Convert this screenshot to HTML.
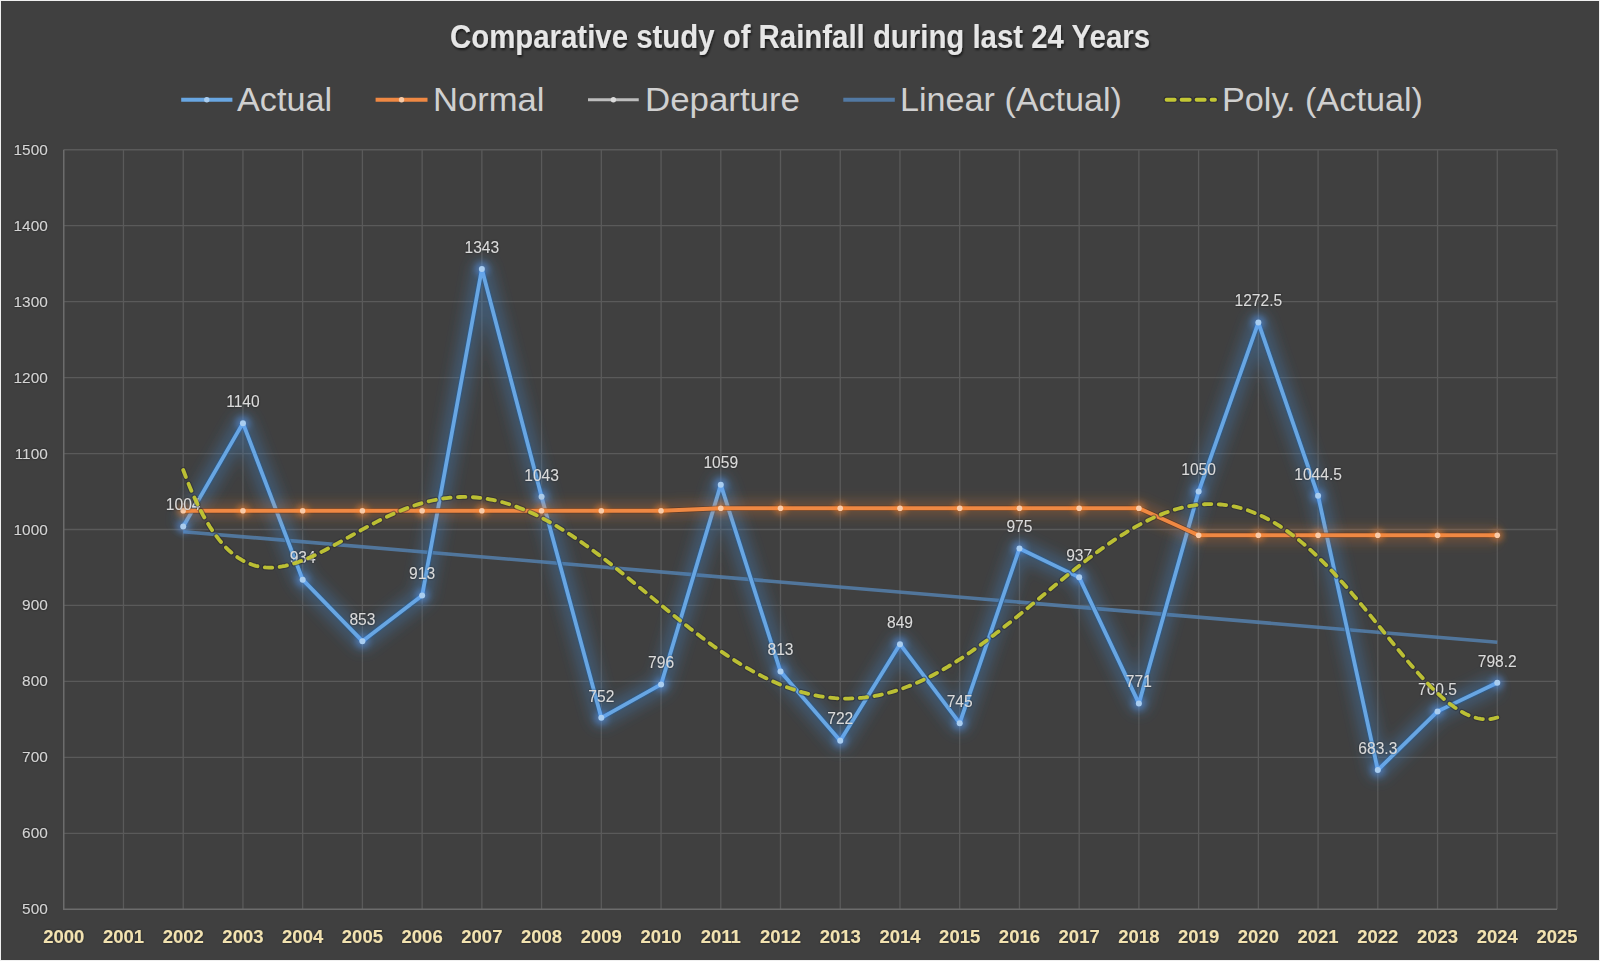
<!DOCTYPE html><html><head><meta charset="utf-8"><style>html,body{margin:0;padding:0;background:#404040;}svg{display:block}text{font-family:"Liberation Sans",sans-serif}</style></head><body>
<svg width="1600" height="961" viewBox="0 0 1600 961">
<defs>
<filter id="glowB" filterUnits="userSpaceOnUse" x="0" y="0" width="1600" height="961"><feGaussianBlur stdDeviation="6.5"/></filter>
<filter id="glowO" filterUnits="userSpaceOnUse" x="0" y="0" width="1600" height="961"><feGaussianBlur stdDeviation="6"/></filter>
<filter id="lblsh" x="-30%" y="-30%" width="160%" height="160%"><feGaussianBlur in="SourceAlpha" stdDeviation="1.2" result="b"/><feFlood flood-color="#000" flood-opacity="0.55"/><feComposite in2="b" operator="in" result="s"/><feMerge><feMergeNode in="s"/><feMergeNode in="SourceGraphic"/></feMerge></filter>
<filter id="titsh" x="-10%" y="-30%" width="120%" height="160%"><feGaussianBlur in="SourceAlpha" stdDeviation="1" result="b"/><feOffset dx="1.2" dy="1.5" result="ob"/><feFlood flood-color="#000" flood-opacity="0.6"/><feComposite in2="ob" operator="in" result="s"/><feMerge><feMergeNode in="s"/><feMergeNode in="SourceGraphic"/></feMerge></filter>
<filter id="mk" filterUnits="userSpaceOnUse" x="0" y="0" width="1600" height="961"><feGaussianBlur stdDeviation="3"/></filter>
</defs>
<rect x="0" y="0" width="1600" height="961" fill="#f0f0f0"/>
<rect x="1" y="1" width="1598" height="959" fill="#404040"/>
<path d="M63.75 833.30H1557.00 M63.75 757.35H1557.00 M63.75 681.40H1557.00 M63.75 605.45H1557.00 M63.75 529.50H1557.00 M63.75 453.55H1557.00 M63.75 377.60H1557.00 M63.75 301.65H1557.00 M63.75 225.70H1557.00 M63.75 149.75H1557.00 M123.48 149.75V909.25 M183.21 149.75V909.25 M242.94 149.75V909.25 M302.67 149.75V909.25 M362.40 149.75V909.25 M422.13 149.75V909.25 M481.86 149.75V909.25 M541.59 149.75V909.25 M601.32 149.75V909.25 M661.05 149.75V909.25 M720.78 149.75V909.25 M780.51 149.75V909.25 M840.24 149.75V909.25 M899.97 149.75V909.25 M959.70 149.75V909.25 M1019.43 149.75V909.25 M1079.16 149.75V909.25 M1138.89 149.75V909.25 M1198.62 149.75V909.25 M1258.35 149.75V909.25 M1318.08 149.75V909.25 M1377.81 149.75V909.25 M1437.54 149.75V909.25 M1497.27 149.75V909.25 M1557.00 149.75V909.25" stroke="#5a5a5a" stroke-width="1.3" fill="none"/>
<path d="M63.75 149.75V909.25H1557.00" stroke="#6c6c6c" stroke-width="1.5" fill="none"/>
<text x="47.8" y="914.25" text-anchor="end" font-size="15.4" fill="#d4d4d4" filter="url(#lblsh)">500</text>
<text x="47.8" y="838.30" text-anchor="end" font-size="15.4" fill="#d4d4d4" filter="url(#lblsh)">600</text>
<text x="47.8" y="762.35" text-anchor="end" font-size="15.4" fill="#d4d4d4" filter="url(#lblsh)">700</text>
<text x="47.8" y="686.40" text-anchor="end" font-size="15.4" fill="#d4d4d4" filter="url(#lblsh)">800</text>
<text x="47.8" y="610.45" text-anchor="end" font-size="15.4" fill="#d4d4d4" filter="url(#lblsh)">900</text>
<text x="47.8" y="534.50" text-anchor="end" font-size="15.4" fill="#d4d4d4" filter="url(#lblsh)">1000</text>
<text x="47.8" y="458.55" text-anchor="end" font-size="15.4" fill="#d4d4d4" filter="url(#lblsh)">1100</text>
<text x="47.8" y="382.60" text-anchor="end" font-size="15.4" fill="#d4d4d4" filter="url(#lblsh)">1200</text>
<text x="47.8" y="306.65" text-anchor="end" font-size="15.4" fill="#d4d4d4" filter="url(#lblsh)">1300</text>
<text x="47.8" y="230.70" text-anchor="end" font-size="15.4" fill="#d4d4d4" filter="url(#lblsh)">1400</text>
<text x="47.8" y="154.75" text-anchor="end" font-size="15.4" fill="#d4d4d4" filter="url(#lblsh)">1500</text>
<text x="63.75" y="943" text-anchor="middle" font-size="18.5" font-weight="bold" fill="#f2e2b0" filter="url(#lblsh)">2000</text>
<text x="123.48" y="943" text-anchor="middle" font-size="18.5" font-weight="bold" fill="#f2e2b0" filter="url(#lblsh)">2001</text>
<text x="183.21" y="943" text-anchor="middle" font-size="18.5" font-weight="bold" fill="#f2e2b0" filter="url(#lblsh)">2002</text>
<text x="242.94" y="943" text-anchor="middle" font-size="18.5" font-weight="bold" fill="#f2e2b0" filter="url(#lblsh)">2003</text>
<text x="302.67" y="943" text-anchor="middle" font-size="18.5" font-weight="bold" fill="#f2e2b0" filter="url(#lblsh)">2004</text>
<text x="362.40" y="943" text-anchor="middle" font-size="18.5" font-weight="bold" fill="#f2e2b0" filter="url(#lblsh)">2005</text>
<text x="422.13" y="943" text-anchor="middle" font-size="18.5" font-weight="bold" fill="#f2e2b0" filter="url(#lblsh)">2006</text>
<text x="481.86" y="943" text-anchor="middle" font-size="18.5" font-weight="bold" fill="#f2e2b0" filter="url(#lblsh)">2007</text>
<text x="541.59" y="943" text-anchor="middle" font-size="18.5" font-weight="bold" fill="#f2e2b0" filter="url(#lblsh)">2008</text>
<text x="601.32" y="943" text-anchor="middle" font-size="18.5" font-weight="bold" fill="#f2e2b0" filter="url(#lblsh)">2009</text>
<text x="661.05" y="943" text-anchor="middle" font-size="18.5" font-weight="bold" fill="#f2e2b0" filter="url(#lblsh)">2010</text>
<text x="720.78" y="943" text-anchor="middle" font-size="18.5" font-weight="bold" fill="#f2e2b0" filter="url(#lblsh)">2011</text>
<text x="780.51" y="943" text-anchor="middle" font-size="18.5" font-weight="bold" fill="#f2e2b0" filter="url(#lblsh)">2012</text>
<text x="840.24" y="943" text-anchor="middle" font-size="18.5" font-weight="bold" fill="#f2e2b0" filter="url(#lblsh)">2013</text>
<text x="899.97" y="943" text-anchor="middle" font-size="18.5" font-weight="bold" fill="#f2e2b0" filter="url(#lblsh)">2014</text>
<text x="959.70" y="943" text-anchor="middle" font-size="18.5" font-weight="bold" fill="#f2e2b0" filter="url(#lblsh)">2015</text>
<text x="1019.43" y="943" text-anchor="middle" font-size="18.5" font-weight="bold" fill="#f2e2b0" filter="url(#lblsh)">2016</text>
<text x="1079.16" y="943" text-anchor="middle" font-size="18.5" font-weight="bold" fill="#f2e2b0" filter="url(#lblsh)">2017</text>
<text x="1138.89" y="943" text-anchor="middle" font-size="18.5" font-weight="bold" fill="#f2e2b0" filter="url(#lblsh)">2018</text>
<text x="1198.62" y="943" text-anchor="middle" font-size="18.5" font-weight="bold" fill="#f2e2b0" filter="url(#lblsh)">2019</text>
<text x="1258.35" y="943" text-anchor="middle" font-size="18.5" font-weight="bold" fill="#f2e2b0" filter="url(#lblsh)">2020</text>
<text x="1318.08" y="943" text-anchor="middle" font-size="18.5" font-weight="bold" fill="#f2e2b0" filter="url(#lblsh)">2021</text>
<text x="1377.81" y="943" text-anchor="middle" font-size="18.5" font-weight="bold" fill="#f2e2b0" filter="url(#lblsh)">2022</text>
<text x="1437.54" y="943" text-anchor="middle" font-size="18.5" font-weight="bold" fill="#f2e2b0" filter="url(#lblsh)">2023</text>
<text x="1497.27" y="943" text-anchor="middle" font-size="18.5" font-weight="bold" fill="#f2e2b0" filter="url(#lblsh)">2024</text>
<text x="1557.00" y="943" text-anchor="middle" font-size="18.5" font-weight="bold" fill="#f2e2b0" filter="url(#lblsh)">2025</text>
<path d="M183.21 531.72L1497.27 642.33" stroke="#5580ad" stroke-width="3.6" stroke-opacity="0.85" fill="none"/>
<path d="M183.21 526.46 L242.94 423.17 L302.67 579.63 L362.40 641.15 L422.13 595.58 L481.86 268.99 L541.59 496.84 L601.32 717.86 L661.05 684.44 L720.78 484.69 L780.51 671.53 L840.24 740.64 L899.97 644.18 L959.70 723.17 L1019.43 548.49 L1079.16 577.35 L1138.89 703.43 L1198.62 491.53 L1258.35 322.54 L1318.08 495.70 L1377.81 770.03 L1437.54 711.40 L1497.27 682.77" stroke="#3f7fc0" stroke-width="20" stroke-opacity="0.36" fill="none" filter="url(#glowB)" stroke-linejoin="round"/>
<path d="M183.21 526.46 L242.94 423.17 L302.67 579.63 L362.40 641.15 L422.13 595.58 L481.86 268.99 L541.59 496.84 L601.32 717.86 L661.05 684.44 L720.78 484.69 L780.51 671.53 L840.24 740.64 L899.97 644.18 L959.70 723.17 L1019.43 548.49 L1079.16 577.35 L1138.89 703.43 L1198.62 491.53 L1258.35 322.54 L1318.08 495.70 L1377.81 770.03 L1437.54 711.40 L1497.27 682.77" stroke="#2c5a8c" stroke-width="5.6" stroke-opacity="0.8" fill="none" stroke-linejoin="round"/>
<path d="M183.21 526.46 L242.94 423.17 L302.67 579.63 L362.40 641.15 L422.13 595.58 L481.86 268.99 L541.59 496.84 L601.32 717.86 L661.05 684.44 L720.78 484.69 L780.51 671.53 L840.24 740.64 L899.97 644.18 L959.70 723.17 L1019.43 548.49 L1079.16 577.35 L1138.89 703.43 L1198.62 491.53 L1258.35 322.54 L1318.08 495.70 L1377.81 770.03 L1437.54 711.40 L1497.27 682.77" stroke="#68a6e2" stroke-width="3.8" fill="none" stroke-linejoin="round"/>
<circle cx="183.21" cy="526.46" r="7" fill="#5aa0ff" fill-opacity="0.45" filter="url(#mk)"/>
<circle cx="242.94" cy="423.17" r="7" fill="#5aa0ff" fill-opacity="0.45" filter="url(#mk)"/>
<circle cx="302.67" cy="579.63" r="7" fill="#5aa0ff" fill-opacity="0.45" filter="url(#mk)"/>
<circle cx="362.40" cy="641.15" r="7" fill="#5aa0ff" fill-opacity="0.45" filter="url(#mk)"/>
<circle cx="422.13" cy="595.58" r="7" fill="#5aa0ff" fill-opacity="0.45" filter="url(#mk)"/>
<circle cx="481.86" cy="268.99" r="7" fill="#5aa0ff" fill-opacity="0.45" filter="url(#mk)"/>
<circle cx="541.59" cy="496.84" r="7" fill="#5aa0ff" fill-opacity="0.45" filter="url(#mk)"/>
<circle cx="601.32" cy="717.86" r="7" fill="#5aa0ff" fill-opacity="0.45" filter="url(#mk)"/>
<circle cx="661.05" cy="684.44" r="7" fill="#5aa0ff" fill-opacity="0.45" filter="url(#mk)"/>
<circle cx="720.78" cy="484.69" r="7" fill="#5aa0ff" fill-opacity="0.45" filter="url(#mk)"/>
<circle cx="780.51" cy="671.53" r="7" fill="#5aa0ff" fill-opacity="0.45" filter="url(#mk)"/>
<circle cx="840.24" cy="740.64" r="7" fill="#5aa0ff" fill-opacity="0.45" filter="url(#mk)"/>
<circle cx="899.97" cy="644.18" r="7" fill="#5aa0ff" fill-opacity="0.45" filter="url(#mk)"/>
<circle cx="959.70" cy="723.17" r="7" fill="#5aa0ff" fill-opacity="0.45" filter="url(#mk)"/>
<circle cx="1019.43" cy="548.49" r="7" fill="#5aa0ff" fill-opacity="0.45" filter="url(#mk)"/>
<circle cx="1079.16" cy="577.35" r="7" fill="#5aa0ff" fill-opacity="0.45" filter="url(#mk)"/>
<circle cx="1138.89" cy="703.43" r="7" fill="#5aa0ff" fill-opacity="0.45" filter="url(#mk)"/>
<circle cx="1198.62" cy="491.53" r="7" fill="#5aa0ff" fill-opacity="0.45" filter="url(#mk)"/>
<circle cx="1258.35" cy="322.54" r="7" fill="#5aa0ff" fill-opacity="0.45" filter="url(#mk)"/>
<circle cx="1318.08" cy="495.70" r="7" fill="#5aa0ff" fill-opacity="0.45" filter="url(#mk)"/>
<circle cx="1377.81" cy="770.03" r="7" fill="#5aa0ff" fill-opacity="0.45" filter="url(#mk)"/>
<circle cx="1437.54" cy="711.40" r="7" fill="#5aa0ff" fill-opacity="0.45" filter="url(#mk)"/>
<circle cx="1497.27" cy="682.77" r="7" fill="#5aa0ff" fill-opacity="0.45" filter="url(#mk)"/>
<circle cx="183.21" cy="526.46" r="3" fill="#a9cdf0"/>
<circle cx="242.94" cy="423.17" r="3" fill="#a9cdf0"/>
<circle cx="302.67" cy="579.63" r="3" fill="#a9cdf0"/>
<circle cx="362.40" cy="641.15" r="3" fill="#a9cdf0"/>
<circle cx="422.13" cy="595.58" r="3" fill="#a9cdf0"/>
<circle cx="481.86" cy="268.99" r="3" fill="#a9cdf0"/>
<circle cx="541.59" cy="496.84" r="3" fill="#a9cdf0"/>
<circle cx="601.32" cy="717.86" r="3" fill="#a9cdf0"/>
<circle cx="661.05" cy="684.44" r="3" fill="#a9cdf0"/>
<circle cx="720.78" cy="484.69" r="3" fill="#a9cdf0"/>
<circle cx="780.51" cy="671.53" r="3" fill="#a9cdf0"/>
<circle cx="840.24" cy="740.64" r="3" fill="#a9cdf0"/>
<circle cx="899.97" cy="644.18" r="3" fill="#a9cdf0"/>
<circle cx="959.70" cy="723.17" r="3" fill="#a9cdf0"/>
<circle cx="1019.43" cy="548.49" r="3" fill="#a9cdf0"/>
<circle cx="1079.16" cy="577.35" r="3" fill="#a9cdf0"/>
<circle cx="1138.89" cy="703.43" r="3" fill="#a9cdf0"/>
<circle cx="1198.62" cy="491.53" r="3" fill="#a9cdf0"/>
<circle cx="1258.35" cy="322.54" r="3" fill="#a9cdf0"/>
<circle cx="1318.08" cy="495.70" r="3" fill="#a9cdf0"/>
<circle cx="1377.81" cy="770.03" r="3" fill="#a9cdf0"/>
<circle cx="1437.54" cy="711.40" r="3" fill="#a9cdf0"/>
<circle cx="1497.27" cy="682.77" r="3" fill="#a9cdf0"/>
<path d="M183.21 510.74 L242.94 510.74 L302.67 510.74 L362.40 510.74 L422.13 510.74 L481.86 510.74 L541.59 510.74 L601.32 510.74 L661.05 510.74 L720.78 508.23 L780.51 508.23 L840.24 508.23 L899.97 508.23 L959.70 508.23 L1019.43 508.23 L1079.16 508.23 L1138.89 508.23 L1198.62 535.20 L1258.35 535.20 L1318.08 535.20 L1377.81 535.20 L1437.54 535.20 L1497.27 535.20" stroke="#ed7d31" stroke-width="16" stroke-opacity="0.24" fill="none" filter="url(#glowO)" stroke-linejoin="round"/>
<path d="M183.21 510.74 L242.94 510.74 L302.67 510.74 L362.40 510.74 L422.13 510.74 L481.86 510.74 L541.59 510.74 L601.32 510.74 L661.05 510.74 L720.78 508.23 L780.51 508.23 L840.24 508.23 L899.97 508.23 L959.70 508.23 L1019.43 508.23 L1079.16 508.23 L1138.89 508.23 L1198.62 535.20 L1258.35 535.20 L1318.08 535.20 L1377.81 535.20 L1437.54 535.20 L1497.27 535.20" stroke="#5a3015" stroke-opacity="0.6" stroke-width="5.6" fill="none" stroke-linejoin="round"/>
<path d="M183.21 510.74 L242.94 510.74 L302.67 510.74 L362.40 510.74 L422.13 510.74 L481.86 510.74 L541.59 510.74 L601.32 510.74 L661.05 510.74 L720.78 508.23 L780.51 508.23 L840.24 508.23 L899.97 508.23 L959.70 508.23 L1019.43 508.23 L1079.16 508.23 L1138.89 508.23 L1198.62 535.20 L1258.35 535.20 L1318.08 535.20 L1377.81 535.20 L1437.54 535.20 L1497.27 535.20" stroke="#ef8843" stroke-width="3.9" fill="none" stroke-linejoin="round"/>
<circle cx="183.21" cy="510.74" r="6" fill="#ff8a30" fill-opacity="0.5" filter="url(#mk)"/>
<circle cx="242.94" cy="510.74" r="6" fill="#ff8a30" fill-opacity="0.5" filter="url(#mk)"/>
<circle cx="302.67" cy="510.74" r="6" fill="#ff8a30" fill-opacity="0.5" filter="url(#mk)"/>
<circle cx="362.40" cy="510.74" r="6" fill="#ff8a30" fill-opacity="0.5" filter="url(#mk)"/>
<circle cx="422.13" cy="510.74" r="6" fill="#ff8a30" fill-opacity="0.5" filter="url(#mk)"/>
<circle cx="481.86" cy="510.74" r="6" fill="#ff8a30" fill-opacity="0.5" filter="url(#mk)"/>
<circle cx="541.59" cy="510.74" r="6" fill="#ff8a30" fill-opacity="0.5" filter="url(#mk)"/>
<circle cx="601.32" cy="510.74" r="6" fill="#ff8a30" fill-opacity="0.5" filter="url(#mk)"/>
<circle cx="661.05" cy="510.74" r="6" fill="#ff8a30" fill-opacity="0.5" filter="url(#mk)"/>
<circle cx="720.78" cy="508.23" r="6" fill="#ff8a30" fill-opacity="0.5" filter="url(#mk)"/>
<circle cx="780.51" cy="508.23" r="6" fill="#ff8a30" fill-opacity="0.5" filter="url(#mk)"/>
<circle cx="840.24" cy="508.23" r="6" fill="#ff8a30" fill-opacity="0.5" filter="url(#mk)"/>
<circle cx="899.97" cy="508.23" r="6" fill="#ff8a30" fill-opacity="0.5" filter="url(#mk)"/>
<circle cx="959.70" cy="508.23" r="6" fill="#ff8a30" fill-opacity="0.5" filter="url(#mk)"/>
<circle cx="1019.43" cy="508.23" r="6" fill="#ff8a30" fill-opacity="0.5" filter="url(#mk)"/>
<circle cx="1079.16" cy="508.23" r="6" fill="#ff8a30" fill-opacity="0.5" filter="url(#mk)"/>
<circle cx="1138.89" cy="508.23" r="6" fill="#ff8a30" fill-opacity="0.5" filter="url(#mk)"/>
<circle cx="1198.62" cy="535.20" r="6" fill="#ff8a30" fill-opacity="0.5" filter="url(#mk)"/>
<circle cx="1258.35" cy="535.20" r="6" fill="#ff8a30" fill-opacity="0.5" filter="url(#mk)"/>
<circle cx="1318.08" cy="535.20" r="6" fill="#ff8a30" fill-opacity="0.5" filter="url(#mk)"/>
<circle cx="1377.81" cy="535.20" r="6" fill="#ff8a30" fill-opacity="0.5" filter="url(#mk)"/>
<circle cx="1437.54" cy="535.20" r="6" fill="#ff8a30" fill-opacity="0.5" filter="url(#mk)"/>
<circle cx="1497.27" cy="535.20" r="6" fill="#ff8a30" fill-opacity="0.5" filter="url(#mk)"/>
<circle cx="183.21" cy="510.74" r="2.8" fill="#f9cba8"/>
<circle cx="242.94" cy="510.74" r="2.8" fill="#f9cba8"/>
<circle cx="302.67" cy="510.74" r="2.8" fill="#f9cba8"/>
<circle cx="362.40" cy="510.74" r="2.8" fill="#f9cba8"/>
<circle cx="422.13" cy="510.74" r="2.8" fill="#f9cba8"/>
<circle cx="481.86" cy="510.74" r="2.8" fill="#f9cba8"/>
<circle cx="541.59" cy="510.74" r="2.8" fill="#f9cba8"/>
<circle cx="601.32" cy="510.74" r="2.8" fill="#f9cba8"/>
<circle cx="661.05" cy="510.74" r="2.8" fill="#f9cba8"/>
<circle cx="720.78" cy="508.23" r="2.8" fill="#f9cba8"/>
<circle cx="780.51" cy="508.23" r="2.8" fill="#f9cba8"/>
<circle cx="840.24" cy="508.23" r="2.8" fill="#f9cba8"/>
<circle cx="899.97" cy="508.23" r="2.8" fill="#f9cba8"/>
<circle cx="959.70" cy="508.23" r="2.8" fill="#f9cba8"/>
<circle cx="1019.43" cy="508.23" r="2.8" fill="#f9cba8"/>
<circle cx="1079.16" cy="508.23" r="2.8" fill="#f9cba8"/>
<circle cx="1138.89" cy="508.23" r="2.8" fill="#f9cba8"/>
<circle cx="1198.62" cy="535.20" r="2.8" fill="#f9cba8"/>
<circle cx="1258.35" cy="535.20" r="2.8" fill="#f9cba8"/>
<circle cx="1318.08" cy="535.20" r="2.8" fill="#f9cba8"/>
<circle cx="1377.81" cy="535.20" r="2.8" fill="#f9cba8"/>
<circle cx="1437.54" cy="535.20" r="2.8" fill="#f9cba8"/>
<circle cx="1497.27" cy="535.20" r="2.8" fill="#f9cba8"/>
<text x="183.21" y="510.26" text-anchor="middle" font-size="15.6" fill="#dadada" filter="url(#lblsh)">1004</text>
<text x="242.94" y="406.97" text-anchor="middle" font-size="15.6" fill="#dadada" filter="url(#lblsh)">1140</text>
<text x="302.67" y="563.43" text-anchor="middle" font-size="15.6" fill="#dadada" filter="url(#lblsh)">934</text>
<text x="362.40" y="624.95" text-anchor="middle" font-size="15.6" fill="#dadada" filter="url(#lblsh)">853</text>
<text x="422.13" y="579.38" text-anchor="middle" font-size="15.6" fill="#dadada" filter="url(#lblsh)">913</text>
<text x="481.86" y="252.79" text-anchor="middle" font-size="15.6" fill="#dadada" filter="url(#lblsh)">1343</text>
<text x="541.59" y="480.64" text-anchor="middle" font-size="15.6" fill="#dadada" filter="url(#lblsh)">1043</text>
<text x="601.32" y="701.66" text-anchor="middle" font-size="15.6" fill="#dadada" filter="url(#lblsh)">752</text>
<text x="661.05" y="668.24" text-anchor="middle" font-size="15.6" fill="#dadada" filter="url(#lblsh)">796</text>
<text x="720.78" y="468.49" text-anchor="middle" font-size="15.6" fill="#dadada" filter="url(#lblsh)">1059</text>
<text x="780.51" y="655.33" text-anchor="middle" font-size="15.6" fill="#dadada" filter="url(#lblsh)">813</text>
<text x="840.24" y="724.44" text-anchor="middle" font-size="15.6" fill="#dadada" filter="url(#lblsh)">722</text>
<text x="899.97" y="627.98" text-anchor="middle" font-size="15.6" fill="#dadada" filter="url(#lblsh)">849</text>
<text x="959.70" y="706.97" text-anchor="middle" font-size="15.6" fill="#dadada" filter="url(#lblsh)">745</text>
<text x="1019.43" y="532.29" text-anchor="middle" font-size="15.6" fill="#dadada" filter="url(#lblsh)">975</text>
<text x="1079.16" y="561.15" text-anchor="middle" font-size="15.6" fill="#dadada" filter="url(#lblsh)">937</text>
<text x="1138.89" y="687.23" text-anchor="middle" font-size="15.6" fill="#dadada" filter="url(#lblsh)">771</text>
<text x="1198.62" y="475.33" text-anchor="middle" font-size="15.6" fill="#dadada" filter="url(#lblsh)">1050</text>
<text x="1258.35" y="306.34" text-anchor="middle" font-size="15.6" fill="#dadada" filter="url(#lblsh)">1272.5</text>
<text x="1318.08" y="479.50" text-anchor="middle" font-size="15.6" fill="#dadada" filter="url(#lblsh)">1044.5</text>
<text x="1377.81" y="753.83" text-anchor="middle" font-size="15.6" fill="#dadada" filter="url(#lblsh)">683.3</text>
<text x="1437.54" y="695.20" text-anchor="middle" font-size="15.6" fill="#dadada" filter="url(#lblsh)">760.5</text>
<text x="1497.27" y="666.57" text-anchor="middle" font-size="15.6" fill="#dadada" filter="url(#lblsh)">798.2</text>
<path d="M183.21 469.97 L186.50 478.73 L189.80 486.96 L193.09 494.68 L196.38 501.91 L199.68 508.67 L202.97 514.97 L206.26 520.82 L209.56 526.25 L212.85 531.27 L216.14 535.90 L219.44 540.15 L222.73 544.03 L226.02 547.56 L229.32 550.75 L232.61 553.62 L235.90 556.19 L239.20 558.45 L242.49 560.44 L245.78 562.15 L249.08 563.61 L252.37 564.82 L255.66 565.80 L258.96 566.55 L262.25 567.09 L265.54 567.43 L268.84 567.58 L272.13 567.56 L275.42 567.36 L278.72 567.00 L282.01 566.49 L285.30 565.85 L288.60 565.07 L291.89 564.17 L295.19 563.15 L298.48 562.03 L301.77 560.81 L305.07 559.51 L308.36 558.12 L311.65 556.65 L314.95 555.12 L318.24 553.53 L321.53 551.89 L324.83 550.20 L328.12 548.47 L331.41 546.70 L334.71 544.91 L338.00 543.10 L341.29 541.26 L344.59 539.42 L347.88 537.57 L351.17 535.72 L354.47 533.87 L357.76 532.04 L361.05 530.21 L364.35 528.40 L367.64 526.62 L370.93 524.85 L374.23 523.12 L377.52 521.42 L380.81 519.76 L384.11 518.13 L387.40 516.55 L390.69 515.01 L393.99 513.52 L397.28 512.08 L400.57 510.70 L403.87 509.37 L407.16 508.10 L410.45 506.89 L413.75 505.74 L417.04 504.66 L420.33 503.64 L423.63 502.69 L426.92 501.80 L430.21 500.99 L433.51 500.25 L436.80 499.58 L440.09 498.99 L443.39 498.47 L446.68 498.03 L449.97 497.66 L453.27 497.37 L456.56 497.15 L459.85 497.01 L463.15 496.95 L466.44 496.97 L469.73 497.07 L473.03 497.24 L476.32 497.49 L479.61 497.82 L482.91 498.23 L486.20 498.71 L489.49 499.27 L492.79 499.91 L496.08 500.62 L499.37 501.41 L502.67 502.27 L505.96 503.21 L509.25 504.22 L512.55 505.30 L515.84 506.45 L519.14 507.67 L522.43 508.96 L525.72 510.31 L529.02 511.74 L532.31 513.23 L535.60 514.78 L538.90 516.39 L542.19 518.07 L545.48 519.81 L548.78 521.60 L552.07 523.45 L555.36 525.36 L558.66 527.32 L561.95 529.33 L565.24 531.39 L568.54 533.50 L571.83 535.66 L575.12 537.86 L578.42 540.10 L581.71 542.39 L585.00 544.72 L588.30 547.08 L591.59 549.48 L594.88 551.92 L598.18 554.39 L601.47 556.89 L604.76 559.41 L608.06 561.97 L611.35 564.54 L614.64 567.14 L617.94 569.76 L621.23 572.40 L624.52 575.06 L627.82 577.73 L631.11 580.42 L634.40 583.11 L637.70 585.81 L640.99 588.52 L644.28 591.24 L647.58 593.96 L650.87 596.68 L654.16 599.39 L657.46 602.11 L660.75 604.82 L664.04 607.52 L667.34 610.22 L670.63 612.90 L673.92 615.57 L677.22 618.23 L680.51 620.87 L683.80 623.49 L687.10 626.09 L690.39 628.67 L693.68 631.23 L696.98 633.76 L700.27 636.27 L703.56 638.74 L706.86 641.19 L710.15 643.60 L713.44 645.98 L716.74 648.32 L720.03 650.63 L723.32 652.90 L726.62 655.13 L729.91 657.31 L733.21 659.46 L736.50 661.56 L739.79 663.61 L743.09 665.61 L746.38 667.57 L749.67 669.48 L752.97 671.33 L756.26 673.14 L759.55 674.89 L762.85 676.58 L766.14 678.22 L769.43 679.80 L772.73 681.33 L776.02 682.79 L779.31 684.20 L782.61 685.54 L785.90 686.82 L789.19 688.04 L792.49 689.20 L795.78 690.29 L799.07 691.32 L802.37 692.28 L805.66 693.17 L808.95 694.00 L812.25 694.76 L815.54 695.45 L818.83 696.07 L822.13 696.63 L825.42 697.11 L828.71 697.53 L832.01 697.87 L835.30 698.15 L838.59 698.35 L841.89 698.49 L845.18 698.55 L848.47 698.55 L851.77 698.47 L855.06 698.32 L858.35 698.10 L861.65 697.81 L864.94 697.46 L868.23 697.03 L871.53 696.53 L874.82 695.96 L878.11 695.32 L881.41 694.61 L884.70 693.84 L887.99 693.00 L891.29 692.09 L894.58 691.11 L897.87 690.07 L901.17 688.96 L904.46 687.79 L907.75 686.55 L911.05 685.25 L914.34 683.89 L917.63 682.47 L920.93 680.98 L924.22 679.44 L927.51 677.84 L930.81 676.18 L934.10 674.46 L937.39 672.69 L940.69 670.86 L943.98 668.98 L947.27 667.05 L950.57 665.07 L953.86 663.04 L957.16 660.97 L960.45 658.84 L963.74 656.67 L967.04 654.46 L970.33 652.21 L973.62 649.91 L976.92 647.58 L980.21 645.21 L983.50 642.80 L986.80 640.36 L990.09 637.89 L993.38 635.39 L996.68 632.86 L999.97 630.30 L1003.26 627.72 L1006.56 625.11 L1009.85 622.49 L1013.14 619.84 L1016.44 617.18 L1019.73 614.50 L1023.02 611.80 L1026.32 609.10 L1029.61 606.39 L1032.90 603.66 L1036.20 600.94 L1039.49 598.21 L1042.78 595.47 L1046.08 592.74 L1049.37 590.01 L1052.66 587.29 L1055.96 584.57 L1059.25 581.87 L1062.54 579.17 L1065.84 576.49 L1069.13 573.82 L1072.42 571.18 L1075.72 568.55 L1079.01 565.94 L1082.30 563.36 L1085.60 560.81 L1088.89 558.28 L1092.18 555.79 L1095.48 553.33 L1098.77 550.90 L1102.06 548.51 L1105.36 546.16 L1108.65 543.86 L1111.94 541.60 L1115.24 539.38 L1118.53 537.21 L1121.82 535.10 L1125.12 533.03 L1128.41 531.02 L1131.70 529.07 L1135.00 527.17 L1138.29 525.34 L1141.58 523.57 L1144.88 521.86 L1148.17 520.23 L1151.46 518.65 L1154.76 517.15 L1158.05 515.73 L1161.34 514.37 L1164.64 513.09 L1167.93 511.89 L1171.23 510.77 L1174.52 509.73 L1177.81 508.78 L1181.11 507.90 L1184.40 507.11 L1187.69 506.41 L1190.99 505.80 L1194.28 505.28 L1197.57 504.85 L1200.87 504.51 L1204.16 504.27 L1207.45 504.12 L1210.75 504.06 L1214.04 504.10 L1217.33 504.24 L1220.63 504.48 L1223.92 504.82 L1227.21 505.26 L1230.51 505.80 L1233.80 506.44 L1237.09 507.18 L1240.39 508.03 L1243.68 508.98 L1246.97 510.03 L1250.27 511.18 L1253.56 512.44 L1256.85 513.79 L1260.15 515.26 L1263.44 516.82 L1266.73 518.49 L1270.03 520.26 L1273.32 522.13 L1276.61 524.10 L1279.91 526.17 L1283.20 528.34 L1286.49 530.61 L1289.79 532.97 L1293.08 535.43 L1296.37 537.99 L1299.67 540.63 L1302.96 543.37 L1306.25 546.20 L1309.55 549.12 L1312.84 552.12 L1316.13 555.20 L1319.43 558.37 L1322.72 561.62 L1326.01 564.94 L1329.31 568.33 L1332.60 571.80 L1335.89 575.33 L1339.19 578.93 L1342.48 582.59 L1345.77 586.30 L1349.07 590.07 L1352.36 593.89 L1355.65 597.76 L1358.95 601.66 L1362.24 605.61 L1365.53 609.58 L1368.83 613.59 L1372.12 617.62 L1375.41 621.66 L1378.71 625.72 L1382.00 629.79 L1385.29 633.86 L1388.59 637.92 L1391.88 641.97 L1395.18 646.01 L1398.47 650.02 L1401.76 654.00 L1405.06 657.95 L1408.35 661.85 L1411.64 665.70 L1414.94 669.49 L1418.23 673.21 L1421.52 676.86 L1424.82 680.42 L1428.11 683.89 L1431.40 687.26 L1434.70 690.52 L1437.99 693.66 L1441.28 696.67 L1444.58 699.54 L1447.87 702.27 L1451.16 704.83 L1454.46 707.22 L1457.75 709.43 L1461.04 711.45 L1464.34 713.27 L1467.63 714.87 L1470.92 716.25 L1474.22 717.38 L1477.51 718.26 L1480.80 718.88 L1484.10 719.22 L1487.39 719.26 L1490.68 719.00 L1493.98 718.42 L1497.27 717.51" stroke="#25252c" stroke-opacity="0.45" stroke-width="6.0" stroke-dasharray="7.45 7.41" stroke-linecap="round" fill="none"/>
<path d="M183.21 469.97 L186.50 478.73 L189.80 486.96 L193.09 494.68 L196.38 501.91 L199.68 508.67 L202.97 514.97 L206.26 520.82 L209.56 526.25 L212.85 531.27 L216.14 535.90 L219.44 540.15 L222.73 544.03 L226.02 547.56 L229.32 550.75 L232.61 553.62 L235.90 556.19 L239.20 558.45 L242.49 560.44 L245.78 562.15 L249.08 563.61 L252.37 564.82 L255.66 565.80 L258.96 566.55 L262.25 567.09 L265.54 567.43 L268.84 567.58 L272.13 567.56 L275.42 567.36 L278.72 567.00 L282.01 566.49 L285.30 565.85 L288.60 565.07 L291.89 564.17 L295.19 563.15 L298.48 562.03 L301.77 560.81 L305.07 559.51 L308.36 558.12 L311.65 556.65 L314.95 555.12 L318.24 553.53 L321.53 551.89 L324.83 550.20 L328.12 548.47 L331.41 546.70 L334.71 544.91 L338.00 543.10 L341.29 541.26 L344.59 539.42 L347.88 537.57 L351.17 535.72 L354.47 533.87 L357.76 532.04 L361.05 530.21 L364.35 528.40 L367.64 526.62 L370.93 524.85 L374.23 523.12 L377.52 521.42 L380.81 519.76 L384.11 518.13 L387.40 516.55 L390.69 515.01 L393.99 513.52 L397.28 512.08 L400.57 510.70 L403.87 509.37 L407.16 508.10 L410.45 506.89 L413.75 505.74 L417.04 504.66 L420.33 503.64 L423.63 502.69 L426.92 501.80 L430.21 500.99 L433.51 500.25 L436.80 499.58 L440.09 498.99 L443.39 498.47 L446.68 498.03 L449.97 497.66 L453.27 497.37 L456.56 497.15 L459.85 497.01 L463.15 496.95 L466.44 496.97 L469.73 497.07 L473.03 497.24 L476.32 497.49 L479.61 497.82 L482.91 498.23 L486.20 498.71 L489.49 499.27 L492.79 499.91 L496.08 500.62 L499.37 501.41 L502.67 502.27 L505.96 503.21 L509.25 504.22 L512.55 505.30 L515.84 506.45 L519.14 507.67 L522.43 508.96 L525.72 510.31 L529.02 511.74 L532.31 513.23 L535.60 514.78 L538.90 516.39 L542.19 518.07 L545.48 519.81 L548.78 521.60 L552.07 523.45 L555.36 525.36 L558.66 527.32 L561.95 529.33 L565.24 531.39 L568.54 533.50 L571.83 535.66 L575.12 537.86 L578.42 540.10 L581.71 542.39 L585.00 544.72 L588.30 547.08 L591.59 549.48 L594.88 551.92 L598.18 554.39 L601.47 556.89 L604.76 559.41 L608.06 561.97 L611.35 564.54 L614.64 567.14 L617.94 569.76 L621.23 572.40 L624.52 575.06 L627.82 577.73 L631.11 580.42 L634.40 583.11 L637.70 585.81 L640.99 588.52 L644.28 591.24 L647.58 593.96 L650.87 596.68 L654.16 599.39 L657.46 602.11 L660.75 604.82 L664.04 607.52 L667.34 610.22 L670.63 612.90 L673.92 615.57 L677.22 618.23 L680.51 620.87 L683.80 623.49 L687.10 626.09 L690.39 628.67 L693.68 631.23 L696.98 633.76 L700.27 636.27 L703.56 638.74 L706.86 641.19 L710.15 643.60 L713.44 645.98 L716.74 648.32 L720.03 650.63 L723.32 652.90 L726.62 655.13 L729.91 657.31 L733.21 659.46 L736.50 661.56 L739.79 663.61 L743.09 665.61 L746.38 667.57 L749.67 669.48 L752.97 671.33 L756.26 673.14 L759.55 674.89 L762.85 676.58 L766.14 678.22 L769.43 679.80 L772.73 681.33 L776.02 682.79 L779.31 684.20 L782.61 685.54 L785.90 686.82 L789.19 688.04 L792.49 689.20 L795.78 690.29 L799.07 691.32 L802.37 692.28 L805.66 693.17 L808.95 694.00 L812.25 694.76 L815.54 695.45 L818.83 696.07 L822.13 696.63 L825.42 697.11 L828.71 697.53 L832.01 697.87 L835.30 698.15 L838.59 698.35 L841.89 698.49 L845.18 698.55 L848.47 698.55 L851.77 698.47 L855.06 698.32 L858.35 698.10 L861.65 697.81 L864.94 697.46 L868.23 697.03 L871.53 696.53 L874.82 695.96 L878.11 695.32 L881.41 694.61 L884.70 693.84 L887.99 693.00 L891.29 692.09 L894.58 691.11 L897.87 690.07 L901.17 688.96 L904.46 687.79 L907.75 686.55 L911.05 685.25 L914.34 683.89 L917.63 682.47 L920.93 680.98 L924.22 679.44 L927.51 677.84 L930.81 676.18 L934.10 674.46 L937.39 672.69 L940.69 670.86 L943.98 668.98 L947.27 667.05 L950.57 665.07 L953.86 663.04 L957.16 660.97 L960.45 658.84 L963.74 656.67 L967.04 654.46 L970.33 652.21 L973.62 649.91 L976.92 647.58 L980.21 645.21 L983.50 642.80 L986.80 640.36 L990.09 637.89 L993.38 635.39 L996.68 632.86 L999.97 630.30 L1003.26 627.72 L1006.56 625.11 L1009.85 622.49 L1013.14 619.84 L1016.44 617.18 L1019.73 614.50 L1023.02 611.80 L1026.32 609.10 L1029.61 606.39 L1032.90 603.66 L1036.20 600.94 L1039.49 598.21 L1042.78 595.47 L1046.08 592.74 L1049.37 590.01 L1052.66 587.29 L1055.96 584.57 L1059.25 581.87 L1062.54 579.17 L1065.84 576.49 L1069.13 573.82 L1072.42 571.18 L1075.72 568.55 L1079.01 565.94 L1082.30 563.36 L1085.60 560.81 L1088.89 558.28 L1092.18 555.79 L1095.48 553.33 L1098.77 550.90 L1102.06 548.51 L1105.36 546.16 L1108.65 543.86 L1111.94 541.60 L1115.24 539.38 L1118.53 537.21 L1121.82 535.10 L1125.12 533.03 L1128.41 531.02 L1131.70 529.07 L1135.00 527.17 L1138.29 525.34 L1141.58 523.57 L1144.88 521.86 L1148.17 520.23 L1151.46 518.65 L1154.76 517.15 L1158.05 515.73 L1161.34 514.37 L1164.64 513.09 L1167.93 511.89 L1171.23 510.77 L1174.52 509.73 L1177.81 508.78 L1181.11 507.90 L1184.40 507.11 L1187.69 506.41 L1190.99 505.80 L1194.28 505.28 L1197.57 504.85 L1200.87 504.51 L1204.16 504.27 L1207.45 504.12 L1210.75 504.06 L1214.04 504.10 L1217.33 504.24 L1220.63 504.48 L1223.92 504.82 L1227.21 505.26 L1230.51 505.80 L1233.80 506.44 L1237.09 507.18 L1240.39 508.03 L1243.68 508.98 L1246.97 510.03 L1250.27 511.18 L1253.56 512.44 L1256.85 513.79 L1260.15 515.26 L1263.44 516.82 L1266.73 518.49 L1270.03 520.26 L1273.32 522.13 L1276.61 524.10 L1279.91 526.17 L1283.20 528.34 L1286.49 530.61 L1289.79 532.97 L1293.08 535.43 L1296.37 537.99 L1299.67 540.63 L1302.96 543.37 L1306.25 546.20 L1309.55 549.12 L1312.84 552.12 L1316.13 555.20 L1319.43 558.37 L1322.72 561.62 L1326.01 564.94 L1329.31 568.33 L1332.60 571.80 L1335.89 575.33 L1339.19 578.93 L1342.48 582.59 L1345.77 586.30 L1349.07 590.07 L1352.36 593.89 L1355.65 597.76 L1358.95 601.66 L1362.24 605.61 L1365.53 609.58 L1368.83 613.59 L1372.12 617.62 L1375.41 621.66 L1378.71 625.72 L1382.00 629.79 L1385.29 633.86 L1388.59 637.92 L1391.88 641.97 L1395.18 646.01 L1398.47 650.02 L1401.76 654.00 L1405.06 657.95 L1408.35 661.85 L1411.64 665.70 L1414.94 669.49 L1418.23 673.21 L1421.52 676.86 L1424.82 680.42 L1428.11 683.89 L1431.40 687.26 L1434.70 690.52 L1437.99 693.66 L1441.28 696.67 L1444.58 699.54 L1447.87 702.27 L1451.16 704.83 L1454.46 707.22 L1457.75 709.43 L1461.04 711.45 L1464.34 713.27 L1467.63 714.87 L1470.92 716.25 L1474.22 717.38 L1477.51 718.26 L1480.80 718.88 L1484.10 719.22 L1487.39 719.26 L1490.68 719.00 L1493.98 718.42 L1497.27 717.51" stroke="#c3c734" stroke-opacity="0.95" stroke-width="3.8" stroke-dasharray="7.45 7.41" stroke-linecap="round" fill="none"/>
<text x="800" y="48.3" text-anchor="middle" font-size="33.5" font-weight="bold" fill="#e6e6e6" filter="url(#titsh)" textLength="700" lengthAdjust="spacingAndGlyphs">Comparative study of Rainfall during last 24 Years</text>
<path d="M181.2 99.7H232.4" stroke="#68a6e2" stroke-width="3.9" fill="none"/><circle cx="206.80" cy="99.7" r="2.7" fill="#a9cdf0"/><text x="237" y="110.8" font-size="33" fill="#d0d0d0" textLength="95" lengthAdjust="spacingAndGlyphs">Actual</text>
<path d="M375.6 99.7H427.5" stroke="#ef8843" stroke-width="3.9" fill="none"/><circle cx="401.55" cy="99.7" r="2.7" fill="#f7c9a5"/><text x="433" y="110.8" font-size="33" fill="#d0d0d0" textLength="111.4" lengthAdjust="spacingAndGlyphs">Normal</text>
<path d="M588 99.7H638.75" stroke="#bdbdbd" stroke-width="3.0" fill="none"/><circle cx="613.38" cy="99.7" r="2.7" fill="#dadada"/><text x="645" y="110.8" font-size="33" fill="#d0d0d0" textLength="155" lengthAdjust="spacingAndGlyphs">Departure</text>
<path d="M843.3 99.7H894.8" stroke="#5279a3" stroke-width="3.9" fill="none"/><text x="900" y="110.8" font-size="33" fill="#d0d0d0" textLength="222" lengthAdjust="spacingAndGlyphs">Linear (Actual)</text>
<path d="M1166.6 99.7H1215" stroke="#25252c" stroke-opacity="0.55" stroke-width="6.3" fill="none" stroke-linecap="round" stroke-dasharray="8.1 6.9"/><path d="M1166.6 99.7H1215" stroke="#c3c734" stroke-width="3.9" fill="none" stroke-dasharray="8.1 6.9" stroke-linecap="round"/><text x="1222" y="110.8" font-size="33" fill="#d0d0d0" textLength="201" lengthAdjust="spacingAndGlyphs">Poly. (Actual)</text>
</svg></body></html>
